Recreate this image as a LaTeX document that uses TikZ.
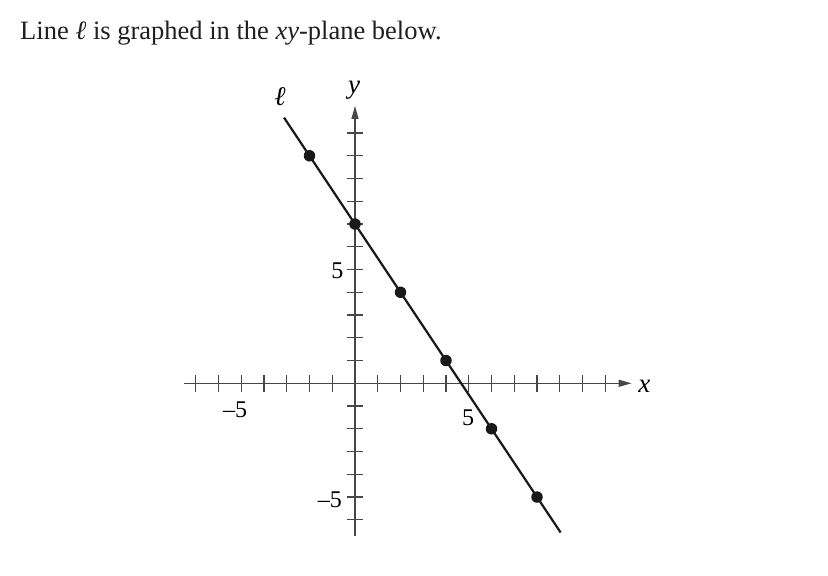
\documentclass[tikz,border=0pt]{standalone}
\usepackage{fontspec}
\setmainfont{Liberation Serif}
\usetikzlibrary{arrows.meta}
\tikzset{
  axis/.style={draw=black!72, line width=1.3pt, -{Triangle[length=13pt,width=7pt]}},
  tickmark/.style={draw=black!72, line width=1.2pt},
  lineell/.style={draw=black!90, line width=2.2pt},
  dot/.style={circle, fill=black!90, inner sep=0pt, minimum size=11.5pt},
  lbl/.style={font=\fontsize{24}{28}\selectfont, inner sep=0pt},
  ital/.style={font=\fontsize{27}{30}\selectfont\itshape, inner sep=0pt},
}
\begin{document}
\begin{tikzpicture}
\useasboundingbox (0,0) rectangle (828pt,576pt);
\node[anchor=base west, inner sep=0pt, font=\fontsize{26.5}{30}\selectfont, text=black!88] (title) at (20pt,536pt) {Line \textit{ℓ} is graphed in the \textit{xy}-plane below.};
\begin{scope}[shift={(355pt,192.7pt)}, x=22.75pt, y=22.75pt]
  \coordinate (xl) at (-7.5,0);
  \coordinate (xr) at (12.16,0);
  \coordinate (yb) at (0,-6.72);
  \coordinate (yt) at (0,12.19);
  \foreach \i in {-7,...,-1,1,2,...,11} \draw[tickmark] (\i,-0.37) -- (\i,0.37);
  \foreach \j in {-6,...,-1,1,2,...,11} \draw[tickmark] (-0.37,\j) -- (0.37,\j);
  \draw[axis] (xl) -- (xr);
  \draw[axis] (yb) -- (yt);
  \node[ital] (xlab) at (12.72,-0.15) {x};
  \node[ital] (ylab) at (-0.04,12.9) {y};
  \node[lbl] (xm5) at (-5.27,-1.17) {–5};
  \node[lbl] (xp5) at (4.97,-1.52) {5};
  \node[lbl] (yp5) at (-0.77,4.94) {5};
  \node[lbl] (ym5) at (-1.1,-5.1) {–5};
  \coordinate (ls) at (-3.12,11.68);
  \coordinate (le) at (9.04,-6.56);
  \draw[lineell] (ls) -- (le);
  \node[ital] (ell) at (-3.3,12.6) {ℓ};
  \foreach \px/\py/\n in {-2/10/a,0/7/b,2/4/c,4/1/d,6/-2/e,8/-5/f}
    \node[dot] (p\n) at (\px,\py) {};
\end{scope}
\end{tikzpicture}
\end{document}
